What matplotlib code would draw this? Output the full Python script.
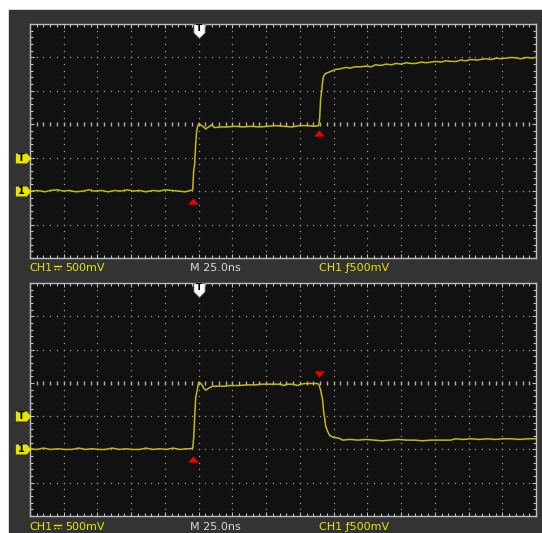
import numpy as np
import matplotlib
matplotlib.use("Agg")
import matplotlib.pyplot as plt
from matplotlib.patches import Rectangle
from matplotlib.lines import Line2D

# ---- data (time in ns, level in V; 25 ns/div, 500 mV/div) ----
TIME_RANGE = (-125, 250)
VOLT_RANGE = (-1.0, 2.5)

top_t = [-125, -119, -114, -110, -105, -100, -96, -91, -86, -81, -77, -72, -67, -62, -58,
         -53, -48, -44, -39, -34, -29, -25, -20, -15, -10, -6,
         -4.4, -3.7, -3.0, -2.2, -1.5, -0.7, 0.0,
         1.5, 3.7, 5.2, 7.4, 9.6, 11.9, 16, 21, 27, 33, 39, 45, 51, 57, 63, 69, 75, 81, 86, 89.0,
         89.7, 90.4, 91.2, 91.9, 92.6, 94.1, 97.8, 101.5,
         105, 109, 112, 116, 120, 124, 128, 131, 135, 139, 143, 146, 150, 154, 157, 161, 165,
         169, 172, 176, 180, 183, 187, 191, 194, 198, 202, 206, 209, 213, 217, 221, 224, 228,
         232, 236, 239, 243, 247, 250]
top_v = [0.00, 0.01, -0.01, 0.01, 0.02, 0.00, 0.01, -0.01, 0.00, 0.02, 0.00, 0.01, -0.01, 0.01, 0.00,
         0.02, 0.00, 0.01, -0.01, 0.01, 0.00, 0.02, 0.01, 0.00, -0.01, 0.01,
         0.02, 0.30, 0.40, 0.70, 0.90, 0.97, 1.01,
         0.99, 0.96, 0.93, 0.96, 0.99, 0.95, 0.96, 0.96, 0.97, 0.96, 0.97, 0.96, 0.97, 0.98, 0.97, 0.96, 0.98, 0.98, 0.97, 0.98,
         1.10, 1.38, 1.50, 1.65, 1.72, 1.76, 1.79, 1.82,
         1.83, 1.85, 1.84, 1.86, 1.86, 1.87, 1.86, 1.89, 1.88, 1.90, 1.89, 1.91, 1.90, 1.92, 1.91, 1.91, 1.93,
         1.92, 1.93, 1.94, 1.93, 1.95, 1.94, 1.94, 1.96, 1.95, 1.97, 1.96, 1.97, 1.98, 1.97, 1.99, 1.98, 1.99,
         2.00, 1.99, 1.98, 2.00, 1.99, 2.00]

bot_t = [-125, -120, -115, -110, -104, -99, -94, -89, -84, -79, -74, -69, -64, -59, -54,
         -49, -44, -39, -34, -29, -24, -19, -14, -9, -6,
         -4.4, -3.7, -3.0, -2.2, -0.7, 0.0,
         2.2, 3.7, 5.2, 7.4, 10.4, 20, 22.2, 30, 36, 42.2, 46, 52, 58, 60.8, 63, 65.2, 70, 73.4, 75.6,
         79.3, 84, 87.5, 89.0,
         90.4, 91.9, 92.6, 93.4, 94.1, 95.6, 97.1, 100, 103.8, 106.7,
         112, 118, 124, 130, 136, 142, 148, 154, 160, 166, 172, 178, 184, 186.8, 190.5,
         196, 202, 208, 214, 220, 226, 232, 238, 244, 250]
bot_v = [0.01, 0.00, 0.02, 0.00, 0.01, 0.00, 0.00, 0.02, 0.00, 0.01, 0.00, 0.00, 0.02, 0.00, 0.01,
         0.00, 0.00, 0.02, 0.00, 0.01, 0.00, 0.02, 0.00, 0.01, 0.01,
         0.02, 0.17, 0.47, 0.78, 0.93, 1.01,
         0.98, 0.92, 0.89, 0.92, 0.95, 0.95, 0.96, 0.96, 0.97, 0.97, 0.98, 0.98, 0.98, 0.98, 0.96, 0.98, 0.98, 0.96, 0.98,
         0.99, 0.99, 0.99, 0.98,
         0.89, 0.74, 0.57, 0.47, 0.35, 0.27, 0.21, 0.18, 0.17, 0.14,
         0.15, 0.14, 0.15, 0.14, 0.13, 0.14, 0.15, 0.14, 0.14, 0.13, 0.14, 0.14, 0.14, 0.14, 0.16,
         0.15, 0.16, 0.15, 0.16, 0.15, 0.16, 0.16, 0.15, 0.16, 0.16]

# red edge markers: (time, level, direction)
top_marks = [(-4.4, -0.15, "up"), (89.0, 0.87, "up")]
bot_marks = [(-4.4, -0.15, "up"), (89.0, 1.14, "down")]

ch_name = "CH1"
ch_scale = "500mV"          # DC coupling sign (no font has it) is drawn between
time_label = "M 25.0ns"
trig_label = "CH1 \u0192500mV"

TRIG_LEVEL = 0.5
GROUND = 0.0

# ---- look ----
W, H = 542, 533
BG = "#333333"
SCREEN = "#111111"
GRID = "#9a9a9a"
EDGE = "#bdbdbd"
TRACE = "#c4b818"
YELLOW = "#e6e600"

TRI_UP = [(-1, -0.6), (1, -0.6), (0, 0.6), (-1, -0.6)]
TRI_DOWN = [(-1, 0.6), (1, 0.6), (0, -0.6), (-1, 0.6)]
LEFT_TAG = [(-1, -0.65), (0.45, -0.65), (1, 0), (0.45, 0.65), (-1, 0.65), (-1, -0.65)]
TOP_TAG = [(-0.8, 1), (0.8, 1), (0.8, -0.2), (0, -1), (-0.8, -0.2), (-0.8, 1)]


def px_box(l, t, r, b):
    return [l / W, 1 - b / H, (r - l) / W, (b - t) / H]


def draw_screen(ax, t, v, marks):
    ax.set_facecolor(SCREEN)
    ax.set_xlim(*TIME_RANGE)
    ax.set_ylim(*VOLT_RANGE)

    ax.set_xticks(np.arange(-125, 251, 25))
    ax.set_xticks(np.arange(-125, 251, 5), minor=True)
    ax.set_yticks(np.arange(-1.0, 2.51, 0.5))
    ax.set_yticks(np.arange(-1.0, 2.51, 0.1), minor=True)
    ax.tick_params(which="both", direction="in", color=EDGE, width=0.8,
                   top=True, right=True, labelbottom=False, labelleft=False)
    ax.tick_params(which="major", length=3.2)
    ax.tick_params(which="minor", length=2.2)
    for s in ax.spines.values():
        s.set_color(EDGE)
        s.set_linewidth(1.0)

    # dotted graticule
    xs = np.arange(-120, 250, 5)
    ys = np.arange(-0.9, 2.45, 0.1)
    for gy in (-0.5, 0.0, 0.5, 1.5, 2.0):
        ax.plot(xs, np.full_like(xs, gy, dtype=float), ls="none", marker="s",
                ms=0.9, mew=0, color=GRID, zorder=1)
    for gx in range(-100, 250, 25):
        ax.plot(np.full_like(ys, gx), ys, ls="none", marker="s",
                ms=0.9, mew=0, color=GRID, zorder=1)
    # centre line with tick dashes
    ax.plot(xs, np.full_like(xs, 1.0, dtype=float), ls="none", marker="|",
            ms=3.0, mew=1.0, color="#b0b0b0", zorder=1)

    ax.plot(t, v, color=TRACE, lw=1.1, zorder=3)

    for mt, mv, d in marks:
        ax.plot(mt, mv, ls="none", marker=TRI_UP if d == "up" else TRI_DOWN,
                ms=7.5, mew=0, color="#ee0000", zorder=4)

    # trigger position tag at top
    ax.plot(0, 2.40, ls="none", marker=TOP_TAG, ms=10, color="white",
            mec="#777777", mew=0.6, zorder=5)
    ax.text(0, 2.43, "T", color="black", fontsize=6.5, fontweight="bold",
            ha="center", va="center", zorder=6)

    # ground and trigger-level tags on the left
    for lvl, lab in ((GROUND, "1"), (TRIG_LEVEL, "T")):
        ax.plot(-129.9, lvl, ls="none", marker=LEFT_TAG, ms=11, color=YELLOW,
                mew=0, clip_on=False, zorder=5)
        ax.text(-131.6, lvl, lab, color="black", fontsize=7, fontweight="bold",
                ha="center", va="center", clip_on=False, zorder=6)


def draw_labels(fig, y):
    yy = 1 - y / H
    fig.text(29 / W, yy, ch_name, color=YELLOW, fontsize=8, va="center")
    # DC coupling sign: solid bar over a dashed bar
    fig.add_artist(Line2D([54 / W, 61 / W], [1 - (y - 2) / H] * 2, color=YELLOW,
                          lw=1.0, transform=fig.transFigure))
    fig.add_artist(Line2D([54 / W, 61 / W], [1 - (y + 1) / H] * 2, color=YELLOW,
                          lw=1.0, ls=(0, (1.2, 1.2)), transform=fig.transFigure))
    fig.text(65 / W, yy, ch_scale, color=YELLOW, fontsize=8, va="center")
    fig.text(190 / W, yy, time_label, color="#d8d8d8", fontsize=8, va="center")
    fig.text(319 / W, yy, trig_label, color=YELLOW, fontsize=8, va="center")


fig = plt.figure(figsize=(W / 100, H / 100), dpi=100)
fig.patch.set_facecolor("white")
fig.add_artist(Rectangle((9 / W, 0), (W - 9) / W, 1 - 10 / H,
                         transform=fig.transFigure, color=BG, zorder=0))

ax1 = fig.add_axes(px_box(30, 24, 536, 258))
draw_screen(ax1, top_t, top_v, top_marks)
draw_labels(fig, 268)

ax2 = fig.add_axes(px_box(30, 283, 536, 516))
draw_screen(ax2, bot_t, bot_v, bot_marks)
draw_labels(fig, 527)

fig.savefig("out.png", dpi=100)
plt.close(fig)
